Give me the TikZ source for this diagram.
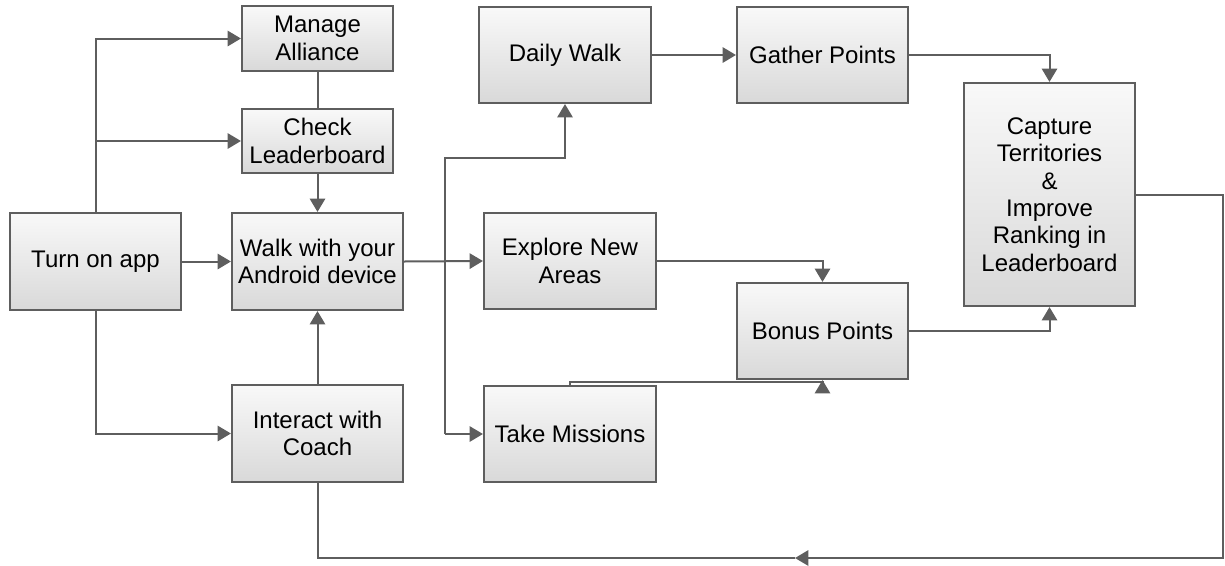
\documentclass[tikz,border=0pt]{standalone}
\usepackage{fontspec}
\setmainfont{Liberation Sans}
\usetikzlibrary{arrows.meta}
\definecolor{edge}{HTML}{5E5E5E}
\tikzset{
  x=0.75pt, y=-0.75pt,
  box/.style={draw=edge, line width=1.6pt, top color=gray!5, bottom color=gray!30,
    align=center, inner sep=2pt, font=\fontsize{18}{20.5}\selectfont},
  conn/.style={draw=edge, line width=1.5pt},
  arr/.style={conn, -{Triangle[length=10pt,width=11.5pt]}},
}
\begin{document}
\begin{tikzpicture}
\useasboundingbox (0,0) rectangle (1225,565);
\fill[white] (0,0) rectangle (1225,565);
% nodes
\node[box, minimum width=113.25pt, minimum height=48.75pt] (ma) at (317.5,38.5) {Manage\\Alliance};
\node[box, minimum width=113.25pt, minimum height=48pt] (cl) at (317.5,141) {Check\\Leaderboard};
\node[box, minimum width=128.25pt, minimum height=72.75pt] (on) at (95.5,261.5) {Turn on app};
\node[box, minimum width=128.25pt, minimum height=72.75pt] (wk) at (317.5,261.5) {Walk with your\\Android device};
\node[box, minimum width=128.25pt, minimum height=72.75pt] (ic) at (317.5,433.5) {Interact with\\Coach};
\node[box, minimum width=129pt, minimum height=72pt] (dw) at (565,55) {Daily Walk};
\node[box, minimum width=128.25pt, minimum height=72pt] (gp) at (822.5,55) {Gather Points};
\node[box, minimum width=129pt, minimum height=72pt] (ex) at (570,261) {Explore New\\Areas};
\node[box, minimum width=129pt, minimum height=72pt] (tm) at (570,434) {Take Missions};
\node[box, minimum width=128.25pt, minimum height=72pt] (bp) at (822.5,331) {Bonus Points};
\node[box, minimum width=128.25pt, minimum height=167.25pt] (cp) at (1049.5,194.5)
  {Capture\\Territories\\\&\\Improve\\Ranking in\\Leaderboard};
% connectors
\draw[arr] (on.north) |- (ma.west);
\coordinate (jl) at (on.north |- cl.west);
\draw[arr] (jl) -- (cl.west);
\draw[conn] (ma.south) -- (cl.north);
\draw[arr] (cl.south) -- (wk.north);
\draw[arr] (on.east) -- (wk.west);
\draw[arr] (on.south) |- (ic.west);
\draw[arr] (ic.north) -- (wk.south);
\draw[arr] (wk.east) -- (ex.west);
\coordinate (jt) at (445,158);
\coordinate (jb) at (445,434);
\draw[arr] (jb) -- (jt) -| (dw.south);
\draw[arr] (jb) -- (tm.west);
\draw[arr] (dw.east) -- (gp.west);
\draw[arr] (gp.east) -| (cp.north);
\draw[arr] (ex.east) -| (bp.north);
\draw[arr] (tm.north) -- ++(0,-3) -| (bp.south);
\draw[arr] (bp.east) -| (cp.south);
\coordinate (rc) at (1223,558);
\coordinate (mid) at (795,558);
\draw[arr] (cp.east) -| (rc) -- (mid);
\draw[conn] (mid) -| (ic.south);
\end{tikzpicture}
\end{document}
